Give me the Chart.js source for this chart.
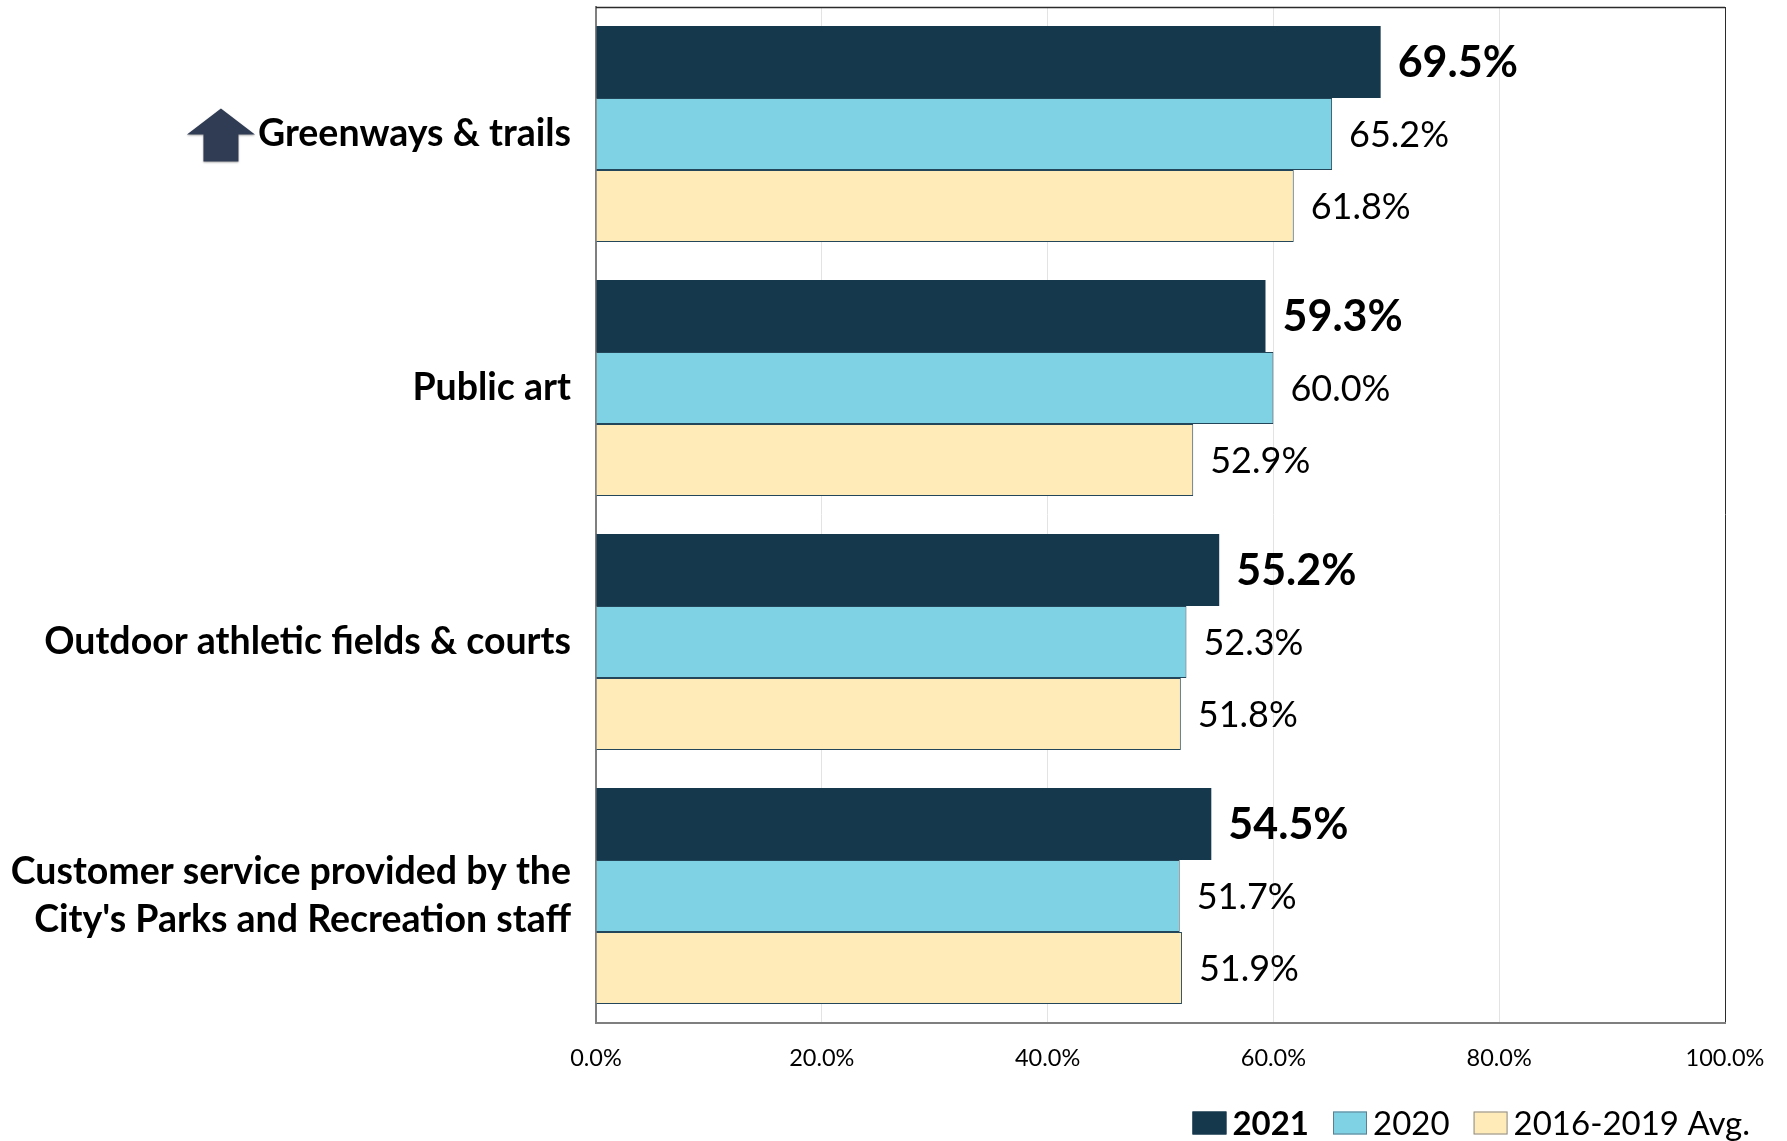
<!DOCTYPE html>
<html>
<head>
<meta charset="utf-8">
<script src="https://cdn.jsdelivr.net/npm/chart.js@4/dist/chart.umd.min.js"></script>
<style>
    html, body { margin: 0; padding: 0; background: #ffffff; }
    #wrap { width: 1787px; height: 1141px; }
</style>
</head>
<body>
<div id="wrap"><canvas id="ui-chart"></canvas></div>
<script>
"use strict";

// chart data
var categories = [
    "Greenways & trails",
    "Public art",
    "Outdoor athletic fields & courts",
    ["Customer service provided by the", "City's Parks and Recreation staff"]
];
var values2021 = [69.5, 59.3, 55.2, 54.5];
var values2020 = [65.2, 60.0, 52.3, 51.7];
var valuesAvg = [61.8, 52.9, 51.8, 51.9];
var seriesNames = ["2021", "2020", "2016-2019 Avg."];
var tickValues = [0, 20, 40, 60, 80, 100];

var FONT = "Lato";
var CAT_SIZE = 37.5;


// value labels right of each bar
var l_valuelabels = {
    id: "valuelabels",
    afterDatasetsDraw: function(chart) {
        var ctx = chart.ctx;
        ctx.save();
        ctx.fillStyle = "#000000";
        ctx.textAlign = "left";
        ctx.textBaseline = "middle";
        chart.data.datasets.forEach(function(ds, i) {
            ctx.font = i === 0 ? "bold 43px " + FONT : "36px " + FONT;
            chart.getDatasetMeta(i).data.forEach(function(bar, j) {
                ctx.fillText(ds.data[j].toFixed(1) + "%", bar.x + 17, bar.y + 1);
            });
        });
        ctx.restore();
    }
};


// frame on top, arrow icon, legend with bold 2021
var l_decor = {
    id: "decor",
    afterDraw: function(chart) {
        var ctx = chart.ctx,
            area = chart.chartArea,
            yscale = chart.scales.y;

        ctx.save();

        // top frame line
        ctx.strokeStyle = "#2b2b2b";
        ctx.lineWidth = 1.5;
        ctx.beginPath();
        ctx.moveTo(area.left, area.top + 0.5);
        ctx.lineTo(area.right, area.top + 0.5);
        ctx.stroke();

        // up arrow left of the first category
        ctx.font = "bold " + CAT_SIZE + "px " + FONT;
        var w = ctx.measureText(categories[0]).width,
            right = area.left - 25 - w - 3,
            cy = yscale.getPixelForValue(0) + 1,
            aw = 68, hh = 26, sw = 35, sh = 27;
        var left = right - aw, top = cy - (hh + sh) / 2;
        ctx.fillStyle = "#303c53";
        ctx.shadowColor = "rgba(0,0,0,0.35)";
        ctx.shadowBlur = 2;
        ctx.shadowOffsetY = 1;
        ctx.beginPath();
        ctx.moveTo(left + aw / 2, top);
        ctx.lineTo(right, top + hh);
        ctx.lineTo(left + aw / 2 + sw / 2, top + hh);
        ctx.lineTo(left + aw / 2 + sw / 2, top + hh + sh);
        ctx.lineTo(left + aw / 2 - sw / 2, top + hh + sh);
        ctx.lineTo(left + aw / 2 - sw / 2, top + hh);
        ctx.lineTo(left, top + hh);
        ctx.closePath();
        ctx.fill();
        ctx.shadowColor = "transparent";

        // legend, right aligned
        var ly = 1123, bw = 34, bh = 23, gap = 6, igap = 24,
            fonts = ["bold 33px " + FONT, "33px " + FONT, "33px " + FONT],
            total = 0;
        chart.data.datasets.forEach(function(ds, i) {
            ctx.font = fonts[i];
            total += bw + gap + ctx.measureText(ds.label).width + (i < 2 ? igap : 0);
        });
        var x = chart.width - 37 - total;
        ctx.textAlign = "left";
        ctx.textBaseline = "middle";
        chart.data.datasets.forEach(function(ds, i) {
            ctx.fillStyle = ds.backgroundColor;
            ctx.fillRect(x, ly - bh / 2, bw, bh);
            ctx.strokeStyle = ds.legendBorder;
            ctx.lineWidth = 1;
            ctx.strokeRect(x + 0.5, ly - bh / 2 + 0.5, bw - 1, bh - 1);
            x += bw + gap;
            ctx.font = fonts[i];
            ctx.fillStyle = "#000000";
            ctx.fillText(ds.label, x, ly + 1);
            x += ctx.measureText(ds.label).width + igap;
        });

        ctx.restore();
    }
};


new Chart(document.getElementById("ui-chart"), {
    type: "bar",
    data: {
        labels: categories,
        datasets: [{
            label: seriesNames[0],
            data: values2021,
            backgroundColor: "#16384d",
            borderColor: "#16384d",
            borderWidth: 0,
            legendBorder: "#16384d"
        }, {
            label: seriesNames[1],
            data: values2020,
            backgroundColor: "#7fd2e3",
            borderColor: "#24465a",
            borderWidth: 1,
            legendBorder: "#5b7f8f"
        }, {
            label: seriesNames[2],
            data: valuesAvg,
            backgroundColor: "#ffebb8",
            borderColor: "#24465a",
            borderWidth: 1,
            legendBorder: "#8a8a8a"
        }]
    },
    options: {
        indexAxis: "y",
        responsive: true,
        maintainAspectRatio: false,
        animation: false,
        layout: { padding: { top: 7, right: 62, bottom: 0, left: 0 } },
        categoryPercentage: 0.85,
        barPercentage: 1.0,
        plugins: {
            legend: { display: false },
            tooltip: { enabled: false }
        },
        scales: {
            x: {
                min: 0,
                max: 100,
                afterBuildTicks: function(scale) {
                    scale.ticks = tickValues.map(function(v) { return { value: v }; });
                },
                afterFit: function(scale) { scale.height = 118; },
                border: { color: "#7f7f7f", width: 2 },
                grid: {
                    drawTicks: false,
                    color: function(c) {
                        if (c.index === 0) return "transparent";
                        return c.index === tickValues.length - 1 ? "#2b2b2b" : "#e3e3e3";
                    },
                    lineWidth: 1
                },
                ticks: {
                    padding: 21,
                    color: "#000000",
                    font: { family: FONT, size: 23.5 },
                    callback: function(v) { return Number(v).toFixed(1) + "%"; }
                }
            },
            y: {
                afterFit: function(scale) {
                    scale.width = 596;
                    scale.paddingTop = 0;
                    scale.paddingBottom = 0;
                },
                border: { color: "#7f7f7f", width: 2 },
                grid: { display: false, drawTicks: false },
                ticks: {
                    padding: 25,
                    color: "#000000",
                    font: { family: FONT, size: CAT_SIZE, weight: "bold", lineHeight: 1.3 }
                }
            }
        }
    },
    plugins: [l_valuelabels, l_decor]
});
</script>
</body>
</html>
